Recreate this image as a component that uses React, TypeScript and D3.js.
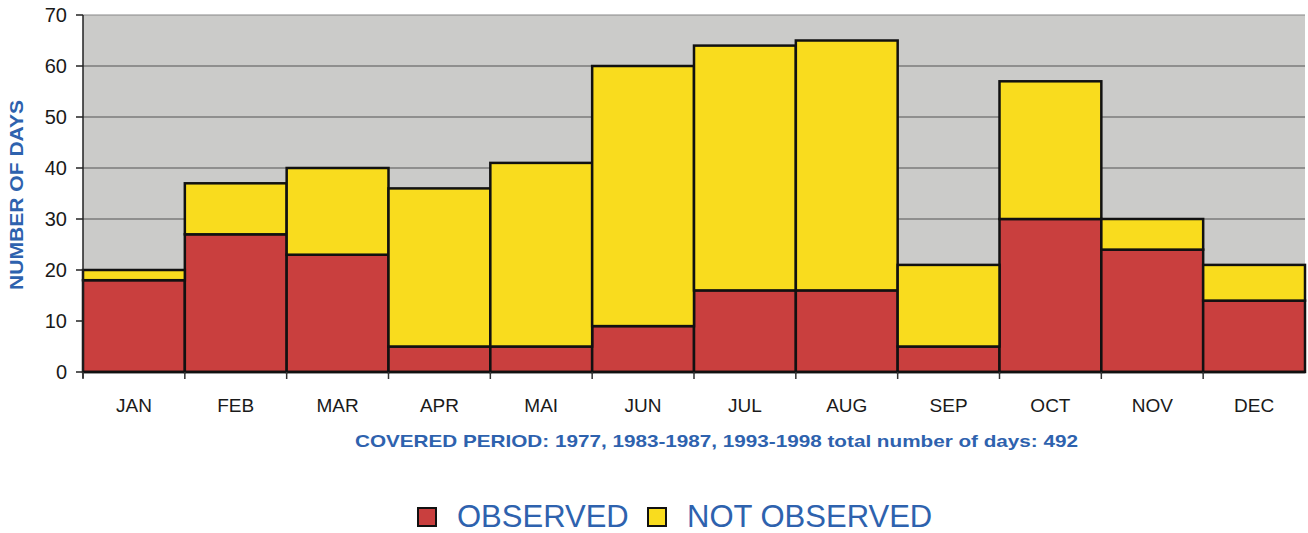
import { useEffect, useRef } from "react"
import * as d3 from "d3"

const months = ["JAN", "FEB", "MAR", "APR", "MAI", "JUN", "JUL", "AUG", "SEP", "OCT", "NOV", "DEC"]
const observed = [18, 27, 23, 5, 5, 9, 16, 16, 5, 30, 24, 14]
const notObserved = [2, 10, 17, 31, 36, 51, 48, 49, 16, 27, 6, 7]
const yTicks = [0, 10, 20, 30, 40, 50, 60, 70]
const seriesNames = ["OBSERVED", "NOT OBSERVED"]
const caption = "COVERED PERIOD: 1977, 1983-1987, 1993-1998 total number of days: 492"

const RED = "#c93f3e"
const YELLOW = "#f9dc1e"
const BLUE = "#2e62ae"

export default function App() {
  const svgRef = useRef<SVGSVGElement>(null)

  useEffect(() => {
    document.body.style.margin = "0"
    if (!svgRef.current) return
    const svg = d3.select(svgRef.current)
    svg.selectAll("*").remove()

    const width = 1308
    const margin = { top: 15, right: 3, left: 83 }
    const plotBottom = 372

    const x = d3.scaleBand().domain(months).range([margin.left, width - margin.right]).padding(0)
    const y = d3.scaleLinear().domain([0, 70]).range([plotBottom, margin.top])

    // plot background
    svg
      .append("rect")
      .attr("x", margin.left)
      .attr("y", margin.top)
      .attr("width", width - margin.right - margin.left)
      .attr("height", plotBottom - margin.top)
      .attr("fill", "#cbcbc9")

    // gridlines
    svg
      .append("g")
      .selectAll("line")
      .data(yTicks.filter((t) => t > 0))
      .join("line")
      .attr("x1", margin.left)
      .attr("x2", width - margin.right)
      .attr("y1", (d) => y(d))
      .attr("y2", (d) => y(d))
      .attr("stroke", (d) => (d === 70 ? "#888" : "#555"))
      .attr("stroke-width", 1.2)

    // stacked bars
    const rows = months.map((m, i) => ({ month: m, observed: observed[i], notObserved: notObserved[i] }))
    const stack = d3.stack<any>().keys(["observed", "notObserved"])(rows)
    const colors = [RED, YELLOW]

    stack.forEach((layer, li) => {
      svg
        .append("g")
        .selectAll("rect")
        .data(layer)
        .join("rect")
        .attr("x", (d) => x(d.data.month)!)
        .attr("width", x.bandwidth())
        .attr("y", (d) => y(d[1]))
        .attr("height", (d) => y(d[0]) - y(d[1]))
        .attr("fill", colors[li])
        .attr("stroke", "#111")
        .attr("stroke-width", 2.5)
    })

    // y axis
    const yAxis = svg.append("g")
    yAxis
      .append("line")
      .attr("x1", margin.left)
      .attr("x2", margin.left)
      .attr("y1", margin.top)
      .attr("y2", plotBottom + 6)
      .attr("stroke", "#222")
      .attr("stroke-width", 1.5)
    yAxis
      .selectAll("line.tick")
      .data(yTicks)
      .join("line")
      .attr("class", "tick")
      .attr("x1", margin.left - 7)
      .attr("x2", margin.left)
      .attr("y1", (d) => y(d))
      .attr("y2", (d) => y(d))
      .attr("stroke", "#222")
      .attr("stroke-width", 1.5)
    yAxis
      .selectAll("text")
      .data(yTicks)
      .join("text")
      .attr("x", margin.left - 16)
      .attr("y", (d) => y(d))
      .attr("dy", "0.36em")
      .attr("text-anchor", "end")
      .attr("font-family", "Liberation Sans, Arial, sans-serif")
      .attr("font-size", "20px")
      .attr("fill", "#1a1a1a")
      .text((d) => d)

    // x axis
    const xAxis = svg.append("g")
    xAxis
      .append("line")
      .attr("x1", margin.left)
      .attr("x2", width - margin.right)
      .attr("y1", plotBottom)
      .attr("y2", plotBottom)
      .attr("stroke", "#111")
      .attr("stroke-width", 2.5)
    xAxis
      .selectAll("line.tick")
      .data(months)
      .join("line")
      .attr("class", "tick")
      .attr("x1", (d) => x(d)!)
      .attr("x2", (d) => x(d)!)
      .attr("y1", plotBottom)
      .attr("y2", plotBottom + 7)
      .attr("stroke", "#333")
      .attr("stroke-width", 1.5)
    xAxis
      .selectAll("text")
      .data(months)
      .join("text")
      .attr("x", (d) => x(d)! + x.bandwidth() / 2)
      .attr("y", 412)
      .attr("text-anchor", "middle")
      .attr("font-family", "Liberation Sans, Arial, sans-serif")
      .attr("font-size", "19px")
      .attr("fill", "#1a1a1a")
      .text((d) => d)

    // y label (stretched like the original)
    svg
      .append("text")
      .attr("transform", `translate(23, 195) rotate(-90)`)
      .attr("text-anchor", "middle")
      .attr("font-family", "Liberation Sans, Arial, sans-serif")
      .attr("font-size", "18px")
      .attr("font-weight", "bold")
      .attr("fill", BLUE)
      .attr("textLength", 190)
      .attr("lengthAdjust", "spacingAndGlyphs")
      .text("NUMBER OF DAYS")

    // caption
    svg
      .append("text")
      .attr("x", 355)
      .attr("y", 447)
      .attr("font-family", "Liberation Sans, Arial, sans-serif")
      .attr("font-size", "17px")
      .attr("font-weight", "bold")
      .attr("fill", BLUE)
      .attr("textLength", 723)
      .attr("lengthAdjust", "spacingAndGlyphs")
      .text(caption)

    // legend
    const legendX = [418, 648]
    seriesNames.forEach((name, i) => {
      const g = svg.append("g").attr("transform", `translate(${legendX[i]}, 508)`)
      g.append("rect")
        .attr("width", 18)
        .attr("height", 18)
        .attr("fill", colors[i])
        .attr("stroke", "#111")
        .attr("stroke-width", 2)
      g.append("text")
        .attr("x", 39)
        .attr("y", 19)
        .attr("font-family", "Liberation Sans, Arial, sans-serif")
        .attr("font-size", "31px")
        .attr("fill", BLUE)
        .text(name)
    })
  }, [])

  return <svg ref={svgRef} width={1308} height={533} style={{ display: "block", background: "#fff" }} />
}
